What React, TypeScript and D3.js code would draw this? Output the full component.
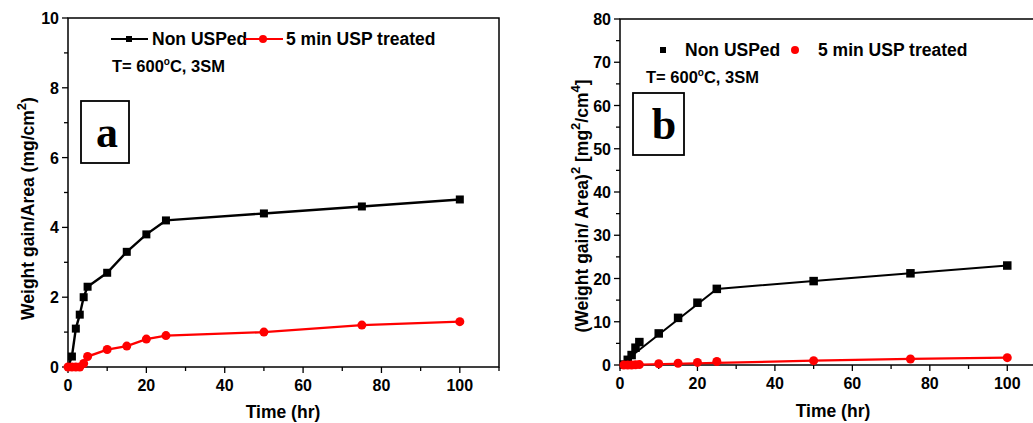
import React from "react";
import { scaleLinear, line, range } from "d3";

// ---- data ----
const timeA = [0, 1, 2, 3, 4, 5, 10, 15, 20, 25, 50, 75, 100];
const nonUspA = [0, 0.3, 1.1, 1.5, 2.0, 2.3, 2.7, 3.3, 3.8, 4.2, 4.4, 4.6, 4.8];
const uspA = [0, 0, 0, 0, 0.1, 0.3, 0.5, 0.6, 0.8, 0.9, 1.0, 1.2, 1.3];

const timeB = [1, 2, 3, 4, 5, 10, 15, 20, 25, 50, 75, 100];
const nonUspB = [0.1, 1.2, 2.3, 4.0, 5.3, 7.3, 10.9, 14.4, 17.6, 19.4, 21.2, 23.0];
const uspB = [0, 0, 0, 0.05, 0.1, 0.3, 0.4, 0.6, 0.8, 1.0, 1.4, 1.7];
const fitTimeB = [0, 25, 50, 75, 100];
const fitNonUspB = [0, 17.6, 19.4, 21.2, 23.0];
const fitUspB = [0, 0.5, 1.0, 1.4, 1.7];

const xTicks = [0, 20, 40, 60, 80, 100];
const yTicksA = [0, 2, 4, 6, 8, 10];
const yTicksB = [0, 10, 20, 30, 40, 50, 60, 70, 80];

const FONT = "'Liberation Sans', Arial, sans-serif";

type Pt = [number, number];
const zip = (xs: number[], ys: number[]): Pt[] => xs.map((x, i) => [x, ys[i]]);

const Axes = ({ x, y, yTicks, yMinor, left, right, top, bottom }: any) => (
  <g fontFamily={FONT} fontWeight="bold" fontSize={16}>
    <rect x={left} y={top} width={right - left} height={bottom - top} fill="none" stroke="#000" strokeWidth={1.5} />
    {range(0, 111, 10).map((t) => (
      <line key={"xt" + t} x1={x(t)} x2={x(t)} y1={bottom} y2={bottom + (t % 20 === 0 ? 6 : 4)} stroke="#000" strokeWidth={1.3} />
    ))}
    {xTicks.map((t) => (
      <text key={"xl" + t} x={x(t)} y={bottom + 24} textAnchor="middle">{t}</text>
    ))}
    {yMinor.map((t: number) => (
      <line key={"ym" + t} x1={left - 4} x2={left} y1={y(t)} y2={y(t)} stroke="#000" strokeWidth={1.3} />
    ))}
    {yTicks.map((t: number) => (
      <g key={"yt" + t}>
        <line x1={left - 6} x2={left} y1={y(t)} y2={y(t)} stroke="#000" strokeWidth={1.3} />
        <text x={left - 9} y={y(t) + 6} textAnchor="end">{t}</text>
      </g>
    ))}
  </g>
);

const Square = ({ cx, cy, s = 8, fill = "#000" }: any) => (
  <rect x={cx - s / 2} y={cy - s / 2} width={s} height={s} fill={fill} />
);

export default function App() {
  // panel a
  const la = 68, ra = 499, ta = 18, ba = 367;
  const xa = scaleLinear().domain([0, 110]).range([la, ra]);
  const ya = scaleLinear().domain([0, 10]).range([ba, ta]);
  const lineA = line<Pt>().x((d) => xa(d[0])).y((d) => ya(d[1]));

  // panel b
  const lb = 620, rb = 1046, tb = 19, bb = 365;
  const xb = scaleLinear().domain([0, 110]).range([lb, rb]);
  const yb = scaleLinear().domain([0, 80]).range([bb, tb]);
  const lineB = line<Pt>().x((d) => xb(d[0])).y((d) => yb(d[1]));

  return (
    <svg width={1033} height={423} style={{ position: "absolute", left: 0, top: 0, background: "#fff" }}>
      {/* ---- panel a ---- */}
      <Axes x={xa} y={ya} yTicks={yTicksA} yMinor={range(1, 10, 2)} left={la} right={ra} top={ta} bottom={ba} />
      <path d={lineA(zip(timeA, nonUspA)) || ""} fill="none" stroke="#000" strokeWidth={2.4} />
      <path d={lineA(zip(timeA, uspA)) || ""} fill="none" stroke="#ff0000" strokeWidth={2.4} />
      {zip(timeA, nonUspA).filter((d) => d[0] > 0).map((d, i) => (
        <Square key={"sa" + i} cx={xa(d[0])} cy={ya(d[1])} />
      ))}
      {zip(timeA, uspA).map((d, i) => (
        <circle key={"ca" + i} cx={xa(d[0])} cy={ya(d[1])} r={4.5} fill="#ff0000" />
      ))}
      <g fontFamily={FONT} fontWeight="bold" fontSize={17.5}>
        <line x1={111} x2={148} y1={39} y2={39} stroke="#000" strokeWidth={2.2} />
        <Square cx={129} cy={39} s={6} />
        <text x={152} y={45}>Non USPed</text>
        <line x1={245} x2={283} y1={39} y2={39} stroke="#ff0000" strokeWidth={2.2} />
        <circle cx={263} cy={39} r={4} fill="#ff0000" />
        <text x={286} y={45}>5 min USP treated</text>
        <text x={112} y={72} fontSize={16.5}>T= 600<tspan dy={-7} fontSize={10}>o</tspan><tspan dy={7}>C, 3SM</tspan></text>
      </g>
      <rect x={81} y={101} width={48} height={62} fill="#fff" stroke="#000" strokeWidth={1.8} />
      <text x={107} y={147} textAnchor="middle" fontFamily="'Liberation Serif', serif" fontWeight="bold" fontSize={44}>a</text>
      <text x={283} y={418} textAnchor="middle" fontFamily={FONT} fontWeight="bold" fontSize={17.5}>Time (hr)</text>
      <text transform={`translate(34,${(ta + ba) / 2 + 16}) rotate(-90)`} textAnchor="middle" fontFamily={FONT} fontWeight="bold" fontSize={17.5}>
        Weight gain/Area (mg/cm<tspan dy={-8} fontSize={13}>2</tspan><tspan dy={8}>)</tspan>
      </text>

      {/* ---- panel b ---- */}
      <Axes x={xb} y={yb} yTicks={yTicksB} yMinor={range(5, 80, 10)} left={lb} right={rb} top={tb} bottom={bb} />
      <path d={lineB(zip(fitTimeB, fitNonUspB)) || ""} fill="none" stroke="#000" strokeWidth={2} />
      <path d={lineB(zip(fitTimeB, fitUspB)) || ""} fill="none" stroke="#ff0000" strokeWidth={2.2} />
      {zip(timeB, nonUspB).map((d, i) => (
        <Square key={"sb" + i} cx={xb(d[0])} cy={yb(d[1])} s={8.5} />
      ))}
      {zip(timeB, uspB).map((d, i) => (
        <circle key={"cb" + i} cx={xb(d[0])} cy={yb(d[1])} r={4.5} fill="#ff0000" />
      ))}
      <g fontFamily={FONT} fontWeight="bold" fontSize={17.5}>
        <Square cx={663} cy={50} s={6} />
        <text x={685} y={56}>Non USPed</text>
        <circle cx={795} cy={50} r={4} fill="#ff0000" />
        <text x={818} y={56}>5 min USP treated</text>
        <text x={646} y={83} fontSize={16.5}>T= 600<tspan dy={-7} fontSize={10}>o</tspan><tspan dy={7}>C, 3SM</tspan></text>
      </g>
      <rect x={633} y={93} width={51} height={62} fill="#fff" stroke="#000" strokeWidth={1.8} />
      <text x={664} y={139} textAnchor="middle" fontFamily="'Liberation Serif', serif" fontWeight="bold" fontSize={44}>b</text>
      <text x={833} y={417} textAnchor="middle" fontFamily={FONT} fontWeight="bold" fontSize={17.5}>Time (hr)</text>
      <text transform={`translate(588,${(tb + bb) / 2 + 14}) rotate(-90)`} textAnchor="middle" fontFamily={FONT} fontWeight="bold" fontSize={17.5}>
        (Weight gain/ Area)<tspan dy={-8} fontSize={13}>2</tspan><tspan dy={8}> [mg</tspan><tspan dy={-8} fontSize={13}>2</tspan><tspan dy={8}>/cm</tspan><tspan dy={-8} fontSize={13}>4</tspan><tspan dy={8}>]</tspan>
      </text>
    </svg>
  );
}
